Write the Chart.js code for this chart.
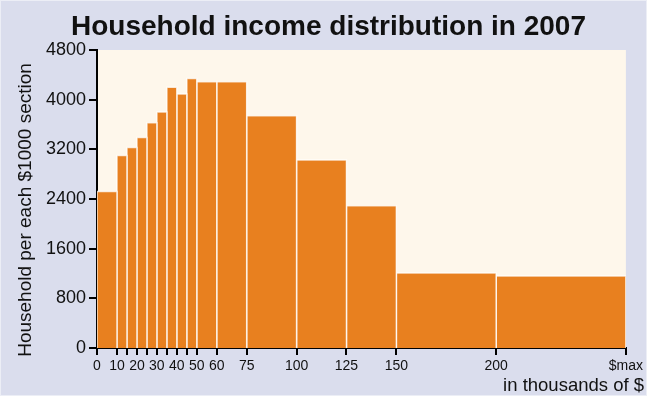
<!DOCTYPE html>
<html>
<head>
<meta charset="utf-8">
<script src="https://cdn.jsdelivr.net/npm/chart.js@4"></script>
<style>
  html, body { margin: 0; padding: 0; background: #eceef6; }
  #wrap { position: absolute; left: 1px; top: 1px; width: 645px; height: 394px; background: #dadded; }
</style>
</head>
<body>
<div id="wrap"><canvas id="incomeChart"></canvas></div>
<script>
// Income bins, in thousands of dollars ($max sits at 265)
const binEdges = [0, 10, 15, 20, 25, 30, 35, 40, 45, 50, 60, 75, 100, 125, 150, 200, 265];
// Households per $1000 of income inside each bin
const households = [2520, 3100, 3230, 3390, 3630, 3800, 4200, 4090, 4340, 4290, 4290, 3740, 3030, 2290, 1210, 1160];
const xTickLabels = ['0', '10', '', '20', '', '30', '', '40', '', '50', '60', '75', '100', '125', '150', '200', '$max'];
const yTicks = [0, 800, 1600, 2400, 3200, 4000, 4800];

const FONT = 'Liberation Sans';
const ORANGE = '#e8801f';

// one closed rectangle per bin, so every bar gets its own width
const datasets = households.map((h, i) => ({
    data: [
        { x: binEdges[i], y: 0 },
        { x: binEdges[i], y: h },
        { x: binEdges[i + 1], y: h },
        { x: binEdges[i + 1], y: 0 }
    ],
    backgroundColor: ORANGE,
    borderColor: 'rgba(255, 255, 255, 0.75)',
    borderWidth: 1.5,
    fill: 'origin',
    tension: 0,
    pointRadius: 0
}));

// cream plot area
const plotBackground = {
    id: 'plotBackground',
    beforeDraw(chart) {
        const { ctx, chartArea } = chart;
        ctx.save();
        ctx.fillStyle = '#fef7eb';
        ctx.fillRect(chartArea.left, chartArea.top, chartArea.right - chartArea.left, chartArea.bottom - chartArea.top);
        ctx.restore();
    }
};

// vertical axis caption, sits a bit lower than the plot centre
const yCaption = {
    id: 'yCaption',
    afterDraw(chart) {
        const { ctx, chartArea } = chart;
        ctx.save();
        ctx.translate(25, (chartArea.top + chartArea.bottom) / 2 + 11);
        ctx.rotate(-Math.PI / 2);
        ctx.font = '19px "' + FONT + '"';
        ctx.fillStyle = '#111';
        ctx.textAlign = 'center';
        ctx.textBaseline = 'middle';
        ctx.fillText('Household per each $1000 section', 0, 0);
        ctx.restore();
    }
};

new Chart(document.getElementById('incomeChart'), {
    type: 'line',
    data: { datasets: datasets },
    options: {
        responsive: true,
        maintainAspectRatio: false,
        animation: false,
        layout: { padding: { left: 12, right: 2, top: 0, bottom: 0 } },
        plugins: {
            legend: { display: false },
            tooltip: { enabled: false },
            title: {
                display: true,
                text: 'Household income distribution in 2007',
                color: '#111',
                font: { family: FONT, size: 28, weight: 'bold', lineHeight: 1.2 },
                padding: { top: 9, bottom: 6.4 }
            },
            subtitle: {
                display: true,
                position: 'bottom',
                align: 'end',
                text: 'in thousands of $',
                color: '#111',
                font: { family: FONT, size: 18.5, lineHeight: 1 },
                padding: { top: 0, bottom: 0 }
            }
        },
        scales: {
            x: {
                type: 'linear',
                min: 0,
                max: 265,
                z: 1,
                afterBuildTicks: scale => { scale.ticks = binEdges.map(v => ({ value: v })); },
                afterFit: scale => { scale.height = 28.5; },
                ticks: {
                    autoSkip: false,
                    maxRotation: 0,
                    padding: 3,
                    color: '#111',
                    font: { family: FONT, size: 14 },
                    callback: (value, index) => xTickLabels[index]
                },
                grid: { display: true, drawOnChartArea: false, drawTicks: true, tickLength: 7, color: '#000', lineWidth: 2 },
                border: { display: true, color: '#000', width: 2 }
            },
            y: {
                min: 0,
                max: 4800,
                z: 1,
                afterBuildTicks: scale => { scale.ticks = yTicks.map(v => ({ value: v })); },
                afterFit: scale => { scale.width = 84; },
                ticks: {
                    padding: 3,
                    color: '#111',
                    font: { family: FONT, size: 18 },
                    callback: value => String(value)
                },
                grid: { display: true, drawOnChartArea: false, drawTicks: true, tickLength: 8, color: '#000', lineWidth: 2 },
                border: { display: true, color: '#000', width: 2 }
            },
            yRight: {
                position: 'right',
                display: true,
                afterFit: scale => { scale.width = 17; },
                ticks: { display: false },
                grid: { display: false },
                border: { display: false }
            }
        }
    },
    plugins: [plotBackground, yCaption]
});
</script>
</body>
</html>
